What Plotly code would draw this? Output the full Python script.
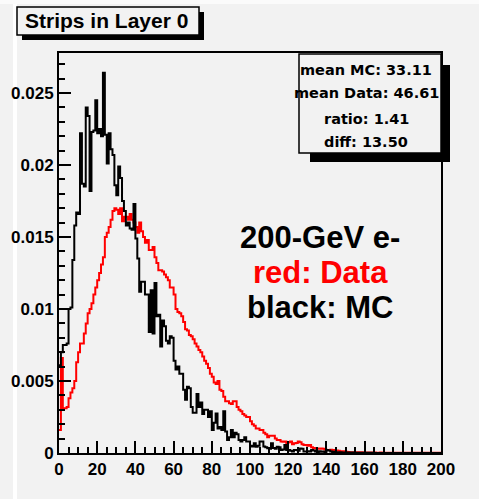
import plotly.graph_objects as go

# ---- histogram contents: 200 bins of width 1 from 0 to 200 ----
n_bins = 200
x_lo, x_hi = 0, 200

# Monte Carlo (black), normalised
mc_values = [
    0.0061, 0.0070, 0.0075, 0.0075, 0.0076, 0.0100, 0.0101, 0.0134, 0.0158, 0.0167,
    0.0166, 0.0222, 0.0187, 0.0185, 0.0240, 0.0234, 0.0182, 0.0223, 0.0224, 0.0245,
    0.0222, 0.0225, 0.0220, 0.0264, 0.0221, 0.0201, 0.0222, 0.0211, 0.0207, 0.0186,
    0.0179, 0.0199, 0.0191, 0.0175, 0.0168, 0.0158, 0.0160, 0.0156, 0.0155, 0.0173,
    0.0149, 0.0135, 0.0112, 0.0119, 0.0119, 0.0110, 0.0110, 0.0084, 0.0113, 0.0083,
    0.0118, 0.0095, 0.0096, 0.0074, 0.0092, 0.0088, 0.0078, 0.0076, 0.0081, 0.0080,
    0.0064, 0.0058, 0.0060, 0.0055, 0.0055, 0.0044, 0.0037, 0.0046, 0.0045, 0.0032,
    0.0028, 0.0028, 0.0041, 0.0032, 0.0035, 0.0027, 0.0030, 0.0030, 0.0025, 0.0029,
    0.0016, 0.0021, 0.00275, 0.0017, 0.0018, 0.0016, 0.0029, 0.0015, 0.0009, 0.0011,
    0.0016, 0.0011, 0.0014, 0.0013, 0.0009, 0.0008, 0.0009, 0.0011, 0.0008, 0.0008,
    0.0005, 0.00045, 0.00067, 0.00044, 0.0005, 0.0008, 0.0008, 0.00045, 0.0004, 0.00033,
    0.0003, 0.00067, 0.00035, 0.0003, 0.00044, 0.0004, 0.0002, 0.00025, 0.00056, 0.0002,
    0.0002, 0.00015, 0.0001, 0.0002, 0.0002, 0.00015, 0.00032, 0.0003, 0.0001, 0.0001,
    0.00012, 0.0001, 0.0002, 0.00018, 0.0001, 0.00005, 0.00012, 0.00008, 0.0001, 0.00005,
    0.0002, 0.00018, 0.0001, 0.00005, 0.00008, 0.00005, 0.00003, 0.00005, 0.00002, 0.00003,
    0.00003, 0.00003, 0.00002, 0.00003, 0.00001, 0.00002, 0.00002, 0.00001, 0.00002, 0.00001,
    0.00001, 0.00002, 0.00001, 0.00001, 0.00001, 0.0, 0.0, 0.0, 0.0, 0.0,
    0.0, 0.0, 0.0, 0.0, 0.0, 0.0, 0.0, 0.0, 0.0, 0.0,
    0.0, 0.0, 0.0, 0.0, 0.0, 0.0, 0.0, 0.0, 0.0, 0.0,
    0.0, 0.0, 0.0, 0.0, 0.0, 0.0, 0.0, 0.0, 0.0, 0.0,
]

# Test-beam data (red), normalised
data_values = [
    0.0016, 0.0066, 0.0031, 0.0031, 0.0032, 0.0038, 0.0042, 0.0045, 0.0050, 0.0063,
    0.0070, 0.0076, 0.0076, 0.0083, 0.0090, 0.0097, 0.0100, 0.0104, 0.0110, 0.0115,
    0.0120, 0.0125, 0.0131, 0.0136, 0.0150, 0.0153, 0.0157, 0.0162, 0.0168, 0.0170,
    0.0169, 0.0166, 0.0170, 0.0161, 0.0164, 0.0164, 0.0162, 0.0166, 0.0162, 0.0160,
    0.0157, 0.0153, 0.0160, 0.0154, 0.0150, 0.0146, 0.0148, 0.0141, 0.0141, 0.0143,
    0.0136, 0.0132, 0.0127, 0.0127, 0.0126, 0.0124, 0.0122, 0.0120, 0.0115, 0.0115,
    0.0110, 0.0100, 0.0098, 0.0097, 0.0095, 0.0091, 0.0086, 0.0085, 0.0082, 0.0081,
    0.0079, 0.0076, 0.0074, 0.00715, 0.0070, 0.0067, 0.0064, 0.0062, 0.0059, 0.0055,
    0.0053, 0.0049, 0.0048, 0.0050, 0.0044, 0.0043, 0.0039, 0.0036, 0.0036, 0.00345,
    0.0034, 0.0036, 0.0036, 0.0032, 0.0030, 0.0029, 0.0027, 0.0026, 0.0025, 0.0025,
    0.0022, 0.0020, 0.0019, 0.0017, 0.0017, 0.0016, 0.0016, 0.0014, 0.0013, 0.0011,
    0.0012, 0.0012, 0.0012, 0.0010, 0.0009, 0.0009, 0.0008, 0.00078, 0.0008, 0.0007,
    0.00075, 0.00079, 0.0006, 0.00067, 0.0007, 0.00079, 0.00075, 0.0006, 0.00056, 0.00056,
    0.0005, 0.00056, 0.0004, 0.00035, 0.00032, 0.00032, 0.0003, 0.00032, 0.0003, 0.00025,
    0.0002, 0.0002, 0.00022, 0.0002, 0.0002, 0.00018, 0.00015, 0.00012, 0.0001, 0.00012,
    0.00008, 0.00007, 0.00006, 0.00006, 0.00005, 0.00006, 0.00005, 0.00004, 0.00005, 0.00004,
    0.00004, 0.00003, 0.00004, 0.00003, 0.00002, 0.00003, 0.00002, 0.00002, 0.00003, 0.00002,
    0.00002, 0.00001, 0.00002, 0.00002, 0.00001, 0.00002, 0.00001, 0.00001, 0.00001, 0.00001,
    0.00001, 0.00001, 0.00002, 0.00001, 0.00001, 0.00001, 0.00001, 0.00001, 0.00001, 0.00001,
    0.00001, 0.00001, 0.00001, 0.00001, 0.00001, 0.00001, 0.00001, 0.00001, 0.00001, 0.00001,
]

y_tick_vals = [0, 0.005, 0.01, 0.015, 0.02, 0.025]
y_tick_text = ["0", "0.005", "0.01", "0.015", "0.02", "0.025"]
x_tick_vals = list(range(0, 201, 20))
x_tick_text = [str(v) for v in x_tick_vals]

title_text = "Strips in Layer 0"
stats_lines = ["mean MC: 33.11", "mean Data: 46.61", "ratio: 1.41", "diff: 13.50"]
label_lines = [("200-GeV e-", "black"), ("red: Data", "red"), ("black: MC", "black")]

# ---- canvas geometry (pixels) ----
W, H = 479, 499
ML, MR, MT, MB = 59, 38, 53, 46
PW, PH = W - ML - MR, H - MT - MB
BG = "#f2f2f2"


def fx(px):
    """pixel column -> paper x"""
    return (px - ML) / PW


def fy(py):
    """pixel row -> paper y"""
    return (H - MB - py) / PH


bin_w = (x_hi - x_lo) / n_bins
edges = [x_lo + i * bin_w for i in range(n_bins + 1)]


def step(values):
    return edges, list(values) + [values[-1]]


fig = go.Figure()
for vals, col in ((data_values, "#ff0000"), (mc_values, "#000000")):
    xs, ys = step(vals)
    fig.add_trace(go.Scatter(
        x=xs, y=ys, mode="lines", line=dict(color=col, width=2, shape="hv"),
        hoverinfo="skip", showlegend=False,
    ))

tick_font = dict(family="Liberation Sans, Arial, sans-serif", size=17,
                 color="black", weight="bold")

fig.update_xaxes(
    range=[x_lo, x_hi], showgrid=False, zeroline=False,
    showline=True, linecolor="black", linewidth=2, mirror=True,
    tickmode="array", tickvals=x_tick_vals, ticktext=x_tick_text,
    ticks="inside", ticklen=12, tickwidth=2, tickcolor="black",
    minor=dict(dtick=5, ticks="inside", ticklen=6, tickwidth=2, tickcolor="black"),
    tickfont=tick_font,
)
fig.update_yaxes(
    range=[0, 0.02778], showgrid=False, zeroline=False,
    showline=True, linecolor="black", linewidth=2, mirror=True,
    tickmode="array", tickvals=y_tick_vals, ticktext=y_tick_text,
    ticks="inside", ticklen=12, tickwidth=2, tickcolor="black",
    minor=dict(dtick=0.001, tick0=0, ticks="inside", ticklen=6, tickwidth=2, tickcolor="black"),
    tickfont=tick_font, ticklabelstandoff=0,
)

shapes = []
# light strips along the canvas border
shapes.append(dict(type="rect", xref="paper", yref="paper", layer="below",
                   x0=fx(0), x1=fx(W), y0=fy(4), y1=fy(0),
                   fillcolor="#fbfbfb", line=dict(width=0)))
shapes.append(dict(type="rect", xref="paper", yref="paper", layer="below",
                   x0=fx(13), x1=fx(17), y0=fy(H), y1=fy(4),
                   fillcolor="#ffffff", line=dict(width=0)))
# title box with drop shadow
shapes.append(dict(type="rect", xref="paper", yref="paper",
                   x0=fx(22), x1=fx(204), y0=fy(40), y1=fy(12),
                   fillcolor="black", line=dict(width=0)))
shapes.append(dict(type="rect", xref="paper", yref="paper",
                   x0=fx(17), x1=fx(199), y0=fy(35), y1=fy(7),
                   fillcolor=BG, line=dict(color="black", width=1.5)))
# statistics box with drop shadow
shapes.append(dict(type="rect", xref="paper", yref="paper",
                   x0=fx(310), x1=fx(450), y0=fy(162), y1=fy(65),
                   fillcolor="black", line=dict(width=0)))
shapes.append(dict(type="rect", xref="paper", yref="paper",
                   x0=fx(299), x1=fx(441), y0=fy(153), y1=fy(54),
                   fillcolor=BG, line=dict(color="black", width=1.5)))

annotations = [dict(
    text=f"<b>{title_text}</b>", xref="paper", yref="paper",
    x=fx(106), y=fy(21), xanchor="center", yanchor="middle", showarrow=False,
    font=dict(family="Liberation Sans, Arial, sans-serif", size=21, color="black"),
)]
for line, row in zip(stats_lines, (70, 93, 119, 142)):
    annotations.append(dict(
        text=f"<b>{line}</b>", xref="paper", yref="paper",
        x=fx(366), y=fy(row), xanchor="center", yanchor="middle", showarrow=False,
        font=dict(family="DejaVu Sans, sans-serif", size=14.5, color="black"),
    ))
for (line, col), row in zip(label_lines, (237, 272, 307)):
    annotations.append(dict(
        text=f"<b>{line}</b>", xref="paper", yref="paper",
        x=fx(320), y=fy(row), xanchor="center", yanchor="middle", showarrow=False,
        font=dict(family="Liberation Sans, Arial, sans-serif", size=31, color=col),
    ))

fig.update_layout(
    width=W, height=H, margin=dict(l=ML, r=MR, t=MT, b=MB, pad=0),
    paper_bgcolor=BG, plot_bgcolor=BG,
    shapes=shapes, annotations=annotations, showlegend=False,
)

fig.write_html("out.html")
